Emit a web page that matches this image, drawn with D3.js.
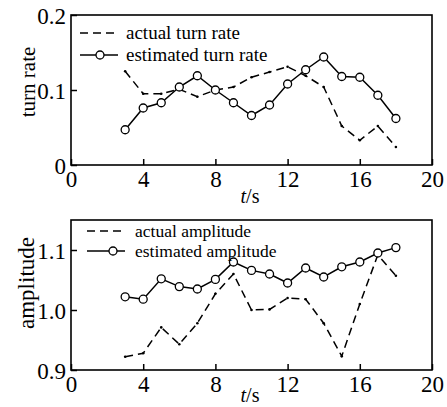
<!DOCTYPE html>
<html><head><meta charset="utf-8">
<script src="https://cdn.jsdelivr.net/npm/d3@7"></script>
<style>body{margin:0;background:#fff}svg{display:block}</style>
</head><body>
<script>
const t = [3,4,5,6,7,8,9,10,11,12,13,14,15,16,17,18];
const actualTurn = [0.125,0.095,0.095,0.101,0.091,0.100,0.104,0.117,0.124,0.131,0.119,0.104,0.052,0.033,0.052,0.024];
const estTurn = [0.047,0.076,0.083,0.104,0.119,0.100,0.083,0.066,0.080,0.108,0.127,0.144,0.118,0.117,0.093,0.062];
const actualAmp = [0.922,0.928,0.971,0.943,0.978,1.027,1.060,1.000,1.001,1.020,1.018,0.978,0.923,1.010,1.092,1.057];
const estAmp = [1.022,1.018,1.052,1.039,1.035,1.051,1.080,1.066,1.060,1.045,1.070,1.055,1.072,1.080,1.095,1.104];
const xTicks = [0,4,8,12,16,20];
const turnTicks = [0,0.1,0.2];
const turnTickLabels = ["0","0.1","0.2"];
const ampTicks = [0.9,1.0,1.1];
const ampTickLabels = ["0.9","1.0","1.1"];
const legendTurn = ["actual turn rate","estimated turn rate"];
const legendAmp = ["actual amplitude","estimated amplitude"];

const W=447,H=407;
const svg=d3.select("body").append("svg").attr("width",W).attr("height",H);
const font="'Liberation Serif','Times New Roman',serif";

function panel(cfg){
  const g=svg.append("g");
  const x=d3.scaleLinear().domain([0,20]).range([71,432]);
  const y=d3.scaleLinear().domain(cfg.domain).range([cfg.bottom,cfg.top]);
  const xa=g.append("g").attr("transform",`translate(0,${cfg.bottom})`)
    .call(d3.axisBottom(x).tickValues(xTicks).tickSize(-6).tickPadding(8).tickFormat(d3.format("d")));
  const ya=g.append("g").attr("transform",`translate(71,0)`)
    .call(d3.axisLeft(y).tickValues(cfg.ticks).tickSize(-6).tickPadding(5).tickFormat((d,i)=>cfg.tickLabels[i]));
  [xa,ya].forEach(a=>{
    a.select(".domain").remove();
    a.selectAll(".tick line").attr("stroke","#000").attr("stroke-width",1.5);
    a.selectAll(".tick text").attr("font-family",font).attr("font-size",23).attr("fill","#000");
  });
  xa.selectAll(".tick text").attr("dy","0.6em");
  ya.selectAll(".tick text").attr("dy","0.35em");
  g.append("rect").attr("x",x(0)).attr("y",cfg.top).attr("width",x(20)-x(0)).attr("height",cfg.bottom-cfg.top)
    .attr("fill","none").attr("stroke","#000").attr("stroke-width",1.6);
  const line=d3.line().x((d,i)=>x(t[i])).y(d=>y(d));
  g.append("path").datum(cfg.actual).attr("d",line).attr("fill","none").attr("stroke","#000")
    .attr("stroke-width",1.5).attr("stroke-dasharray","8,5");
  g.selectAll(".ad").data(cfg.actual).enter().append("circle")
    .attr("cx",(d,i)=>x(t[i])).attr("cy",d=>y(d)).attr("r",1.3).attr("fill","#000");
  g.append("path").datum(cfg.est).attr("d",line).attr("fill","none").attr("stroke","#000").attr("stroke-width",1.5);
  g.selectAll(".ed").data(cfg.est).enter().append("circle")
    .attr("cx",(d,i)=>x(t[i])).attr("cy",d=>y(d)).attr("r",4).attr("fill","#fff").attr("stroke","#000").attr("stroke-width",1.3);
  const L=cfg.legend;
  g.append("line").attr("x1",L.x0).attr("x2",L.x1).attr("y1",L.y1).attr("y2",L.y1)
    .attr("stroke","#000").attr("stroke-width",1.5).attr("stroke-dasharray","8,5");
  g.append("line").attr("x1",L.x0).attr("x2",L.x1).attr("y1",L.y2).attr("y2",L.y2)
    .attr("stroke","#000").attr("stroke-width",1.5);
  g.append("circle").attr("cx",L.cx).attr("cy",L.y2).attr("r",4).attr("fill","#fff").attr("stroke","#000").attr("stroke-width",1.3);
  g.append("text").attr("x",L.tx).attr("y",L.y1).attr("dy","0.32em").attr("font-family",font).attr("font-size",L.fs).text(cfg.legendText[0]);
  g.append("text").attr("x",L.tx).attr("y",L.y2).attr("dy","0.32em").attr("font-family",font).attr("font-size",L.fs).text(cfg.legendText[1]);
  g.append("text").attr("transform",`translate(${cfg.ylabX},${(cfg.top+cfg.bottom)/2 + cfg.ylabDy}) rotate(-90)`)
    .attr("text-anchor","middle").attr("font-family",font).attr("font-size",cfg.ylabSize).text(cfg.ylabel);
  const tl=g.append("text").attr("x",250).attr("y",cfg.tlY).attr("text-anchor","middle")
    .attr("font-family",font).attr("font-size",20);
  tl.append("tspan").attr("font-style","italic").text("t");
  tl.append("tspan").text("/s");
}

panel({domain:[0,0.2],top:15,bottom:165,ticks:turnTicks,tickLabels:turnTickLabels,
  actual:actualTurn,est:estTurn,legendText:legendTurn,
  legend:{x0:80,x1:118,cx:100,tx:126,y1:33,y2:55,fs:19},
  ylabel:"turn rate",ylabX:35,ylabDy:-8,ylabSize:21,tlY:203});
panel({domain:[0.9,1.15],top:220,bottom:370,ticks:ampTicks,tickLabels:ampTickLabels,
  actual:actualAmp,est:estAmp,legendText:legendAmp,
  legend:{x0:87,x1:125,cx:113,tx:135,y1:231,y2:251,fs:17.5},
  ylabel:"amplitude",ylabX:34,ylabDy:-12,ylabSize:23,tlY:402});
</script>
</body></html>
